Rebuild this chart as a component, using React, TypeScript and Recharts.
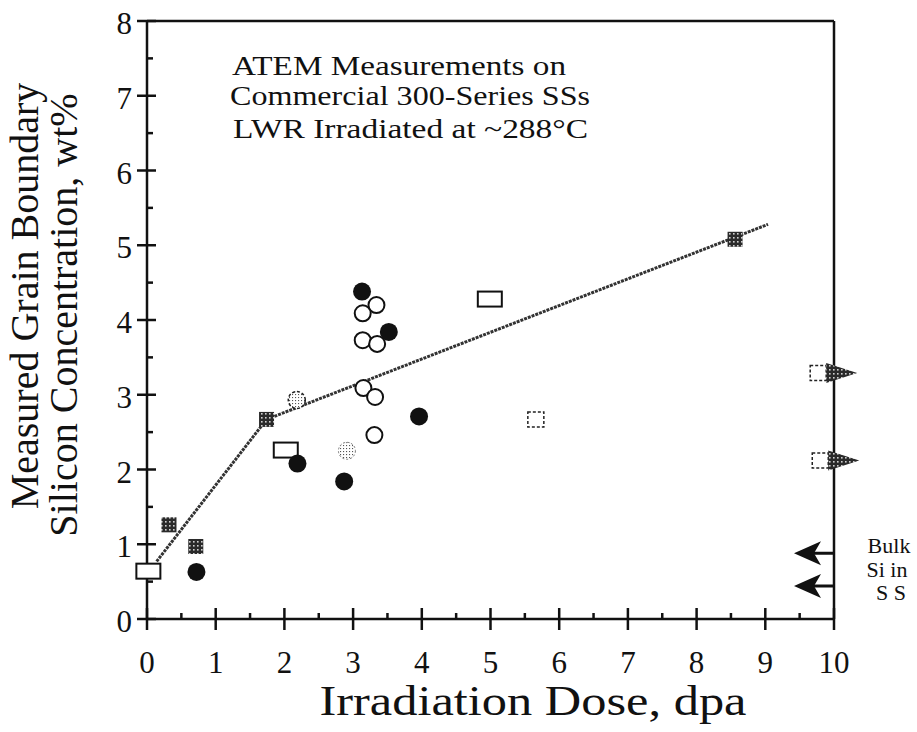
import { ScatterChart, Scatter, XAxis, YAxis } from 'recharts';

const FONT = '"Liberation Serif", "Times New Roman", serif';
const INK = '#111';

// axis ticks (integers get labels, halves are minor ticks)
const xTicks = [0, 0.5, 1, 1.5, 2, 2.5, 3, 3.5, 4, 4.5, 5, 5.5, 6, 6.5, 7, 7.5, 8, 8.5, 9, 9.5, 10];
const yTicks = [0, 0.5, 1, 1.5, 2, 2.5, 3, 3.5, 4, 4.5, 5, 5.5, 6, 6.5, 7, 7.5, 8];

const openRects = [
  { x: 0.02, y: 0.64 },
  { x: 2.02, y: 2.26 },
  { x: 4.99, y: 4.28 },
];
const hatchSquares = [
  { x: 0.32, y: 1.26 },
  { x: 0.71, y: 0.97 },
  { x: 1.74, y: 2.67 },
  { x: 8.56, y: 5.08 },
];
const filledCircles = [
  { x: 0.72, y: 0.63 },
  { x: 2.19, y: 2.08 },
  { x: 2.87, y: 1.84 },
  { x: 3.13, y: 4.38 },
  { x: 3.52, y: 3.84 },
  { x: 3.96, y: 2.71 },
];
const openCircles = [
  { x: 3.34, y: 4.2 },
  { x: 3.14, y: 4.09 },
  { x: 3.14, y: 3.73 },
  { x: 3.35, y: 3.68 },
  { x: 3.15, y: 3.09 },
  { x: 3.32, y: 2.97 },
  { x: 3.31, y: 2.46 },
];
const stippleCircles = [{ x: 2.91, y: 2.25 }];
const dashedCircles = [{ x: 2.18, y: 2.93 }];
const dashedSquares = [{ x: 5.66, y: 2.67 }];
const offScaleSquares = [
  { x: 9.77, y: 3.29 },
  { x: 9.8, y: 2.12 },
];
const bulkSi = [
  { x: 10, y: 0.88 },
  { x: 10, y: 0.44 },
];
const trendLine = [
  { x: 0.14, y: 0.77 },
  { x: 1.74, y: 2.67 },
  { x: 9.04, y: 5.28 },
];

const isMajor = (v: number) => Number.isInteger(v);

const BottomTick = ({ x, y, payload }: any) => {
  const major = isMajor(payload.value);
  return (
    <g>
      <line x1={x} x2={x} y1={major ? y - 11 : y - 6} y2={major ? y + 11 : y} stroke={INK} strokeWidth={2.5} />
      {major && (
        <text x={x} y={y + 54} textAnchor="middle" fontSize={31} fontFamily={FONT} fill={INK}>
          {payload.value}
        </text>
      )}
    </g>
  );
};

const TopTick = ({ x, y, payload }: any) => {
  const major = isMajor(payload.value);
  return <line x1={x} x2={x} y1={major ? y - 11 : y} y2={major ? y + 11 : y + 6} stroke={INK} strokeWidth={2.5} />;
};

const LeftTick = ({ x, y, payload }: any) => {
  const major = isMajor(payload.value);
  return (
    <g>
      <line x1={major ? x - 10 : x} x2={major ? x + 9 : x + 6} y1={y} y2={y} stroke={INK} strokeWidth={2.5} />
      {major && (
        <text x={x - 15} y={y + 13} textAnchor="end" fontSize={31} fontFamily={FONT} fill={INK}>
          {payload.value}
        </text>
      )}
    </g>
  );
};

const RightTick = ({ x, y, payload }: any) => {
  const major = isMajor(payload.value);
  return <line x1={major ? x - 12 : x - 6} x2={major ? x + 12 : x} y1={y} y2={y} stroke={INK} strokeWidth={2.5} />;
};

// static texts + fill patterns, hung on the bottom axis label
const FigureText = () => (
  <g fontFamily={FONT} fill={INK}>
    <defs>
      <pattern id="xhatch" width="4" height="4" patternUnits="userSpaceOnUse">
        <rect width="4" height="4" fill="#2a2a2a" />
        <rect x="1" y="1" width="1.6" height="1.6" fill="#cfcfcf" />
      </pattern>
      <pattern id="stipple" width="3" height="3" patternUnits="userSpaceOnUse">
        <rect width="3" height="3" fill="#fff" />
        <rect x="1" y="1" width="1.1" height="1.1" fill="#555" />
      </pattern>
    </defs>
    <text x={533} y={715} textAnchor="middle" fontSize={42} textLength={427} lengthAdjust="spacingAndGlyphs">
      Irradiation Dose, dpa
    </text>
    <text x={38} y={296} textAnchor="middle" fontSize={40} transform="rotate(-90 38 296)">
      Measured Grain Boundary
    </text>
    <text x={77} y={315} textAnchor="middle" fontSize={40} transform="rotate(-90 77 315)">
      Silicon Concentration, wt%
    </text>
    <text x={232} y={75} fontSize={27} textLength={334} lengthAdjust="spacingAndGlyphs">
      ATEM Measurements on
    </text>
    <text x={230} y={105} fontSize={27} textLength={360} lengthAdjust="spacingAndGlyphs">
      Commercial 300-Series SSs
    </text>
    <text x={233} y={138} fontSize={27} textLength={355} lengthAdjust="spacingAndGlyphs">
      LWR Irradiated at ~288°C
    </text>
    <text x={889} y={553} textAnchor="middle" fontSize={22}>Bulk</text>
    <text x={887} y={577} textAnchor="middle" fontSize={22}>Si in</text>
    <text x={891} y={600} textAnchor="middle" fontSize={22}>S S</text>
  </g>
);

const OpenRect = ({ cx, cy }: any) => (
  <rect x={cx - 12} y={cy - 7.5} width={24} height={15} fill="#fff" stroke={INK} strokeWidth={2} />
);
const HatchSquare = ({ cx, cy }: any) => (
  <rect x={cx - 7.5} y={cy - 7.5} width={15} height={15} fill="url(#xhatch)" />
);
const FilledCircle = ({ cx, cy }: any) => <circle cx={cx} cy={cy} r={9} fill={INK} />;
const OpenCircle = ({ cx, cy }: any) => (
  <circle cx={cx} cy={cy} r={8} fill="#fff" stroke={INK} strokeWidth={2} />
);
const StippleCircle = ({ cx, cy }: any) => (
  <circle cx={cx} cy={cy} r={8.5} fill="url(#stipple)" stroke="#777" strokeWidth={1} strokeDasharray="2 2" />
);
const DashedCircle = ({ cx, cy }: any) => (
  <circle cx={cx} cy={cy} r={8.5} fill="url(#stipple)" stroke="#222" strokeWidth={1.5} strokeDasharray="3 2" />
);
const DashedSquare = ({ cx, cy }: any) => (
  <rect x={cx - 8} y={cy - 7.5} width={16} height={15} fill="#fff" stroke="#222" strokeWidth={1.5} strokeDasharray="3 2" />
);
// value beyond the scale: dashed square with a hatched arrow pointing right
const OffScale = ({ cx, cy }: any) => (
  <g>
    <rect x={cx - 8} y={cy - 7.5} width={16} height={15} fill="#fff" stroke="#222" strokeWidth={1.5} strokeDasharray="3 2" />
    <polygon points={`${cx + 8},${cy - 10} ${cx + 39},${cy} ${cx + 8},${cy + 10}`} fill="url(#xhatch)" />
  </g>
);
const BulkArrow = ({ cx, cy }: any) => (
  <g>
    <line x1={cx - 34} x2={cx} y1={cy} y2={cy} stroke={INK} strokeWidth={3} />
    <path d={`M${cx - 40},${cy} L${cx - 13},${cy - 12} L${cx - 20},${cy} L${cx - 13},${cy + 12} Z`} fill={INK} />
  </g>
);
const NoDot = () => <g />;

const axisStyle = { stroke: INK, strokeWidth: 2.5 };

export default function App() {
  return (
    <div style={{ position: 'absolute', left: 0, top: 0, background: '#fff' }}>
      <ScatterChart width={917} height={732} margin={{ top: 20, right: 82, bottom: 112, left: 146 }}>
        <XAxis
          type="number"
          dataKey="x"
          domain={[0, 10]}
          ticks={xTicks}
          interval={0}
          height={1}
          tickSize={0}
          tickMargin={0}
          tickLine={false}
          axisLine={axisStyle}
          tick={<BottomTick />}
          label={<FigureText />}
        />
        <XAxis
          xAxisId="top"
          orientation="top"
          type="number"
          dataKey="x"
          domain={[0, 10]}
          ticks={xTicks}
          interval={0}
          height={1}
          tickSize={0}
          tickMargin={0}
          tickLine={false}
          axisLine={axisStyle}
          tick={<TopTick />}
        />
        <YAxis
          type="number"
          dataKey="y"
          domain={[0, 8]}
          ticks={yTicks}
          interval={0}
          width={1}
          tickSize={0}
          tickMargin={0}
          tickLine={false}
          axisLine={axisStyle}
          tick={<LeftTick />}
        />
        <YAxis
          yAxisId="right"
          orientation="right"
          type="number"
          dataKey="y"
          domain={[0, 8]}
          ticks={yTicks}
          interval={0}
          width={1}
          tickSize={0}
          tickMargin={0}
          tickLine={false}
          axisLine={axisStyle}
          tick={<RightTick />}
        />
        <Scatter
          data={trendLine}
          line={{ stroke: '#333', strokeWidth: 3, strokeDasharray: '3 1' }}
          shape={<NoDot />}
          isAnimationActive={false}
        />
        <Scatter data={openRects} shape={<OpenRect />} isAnimationActive={false} />
        <Scatter data={hatchSquares} shape={<HatchSquare />} isAnimationActive={false} />
        <Scatter data={openCircles} shape={<OpenCircle />} isAnimationActive={false} />
        <Scatter data={filledCircles} shape={<FilledCircle />} isAnimationActive={false} />
        <Scatter data={stippleCircles} shape={<StippleCircle />} isAnimationActive={false} />
        <Scatter data={dashedCircles} shape={<DashedCircle />} isAnimationActive={false} />
        <Scatter data={dashedSquares} shape={<DashedSquare />} isAnimationActive={false} />
        <Scatter data={offScaleSquares} shape={<OffScale />} isAnimationActive={false} />
        <Scatter data={bulkSi} shape={<BulkArrow />} isAnimationActive={false} />
      </ScatterChart>
    </div>
  );
}
